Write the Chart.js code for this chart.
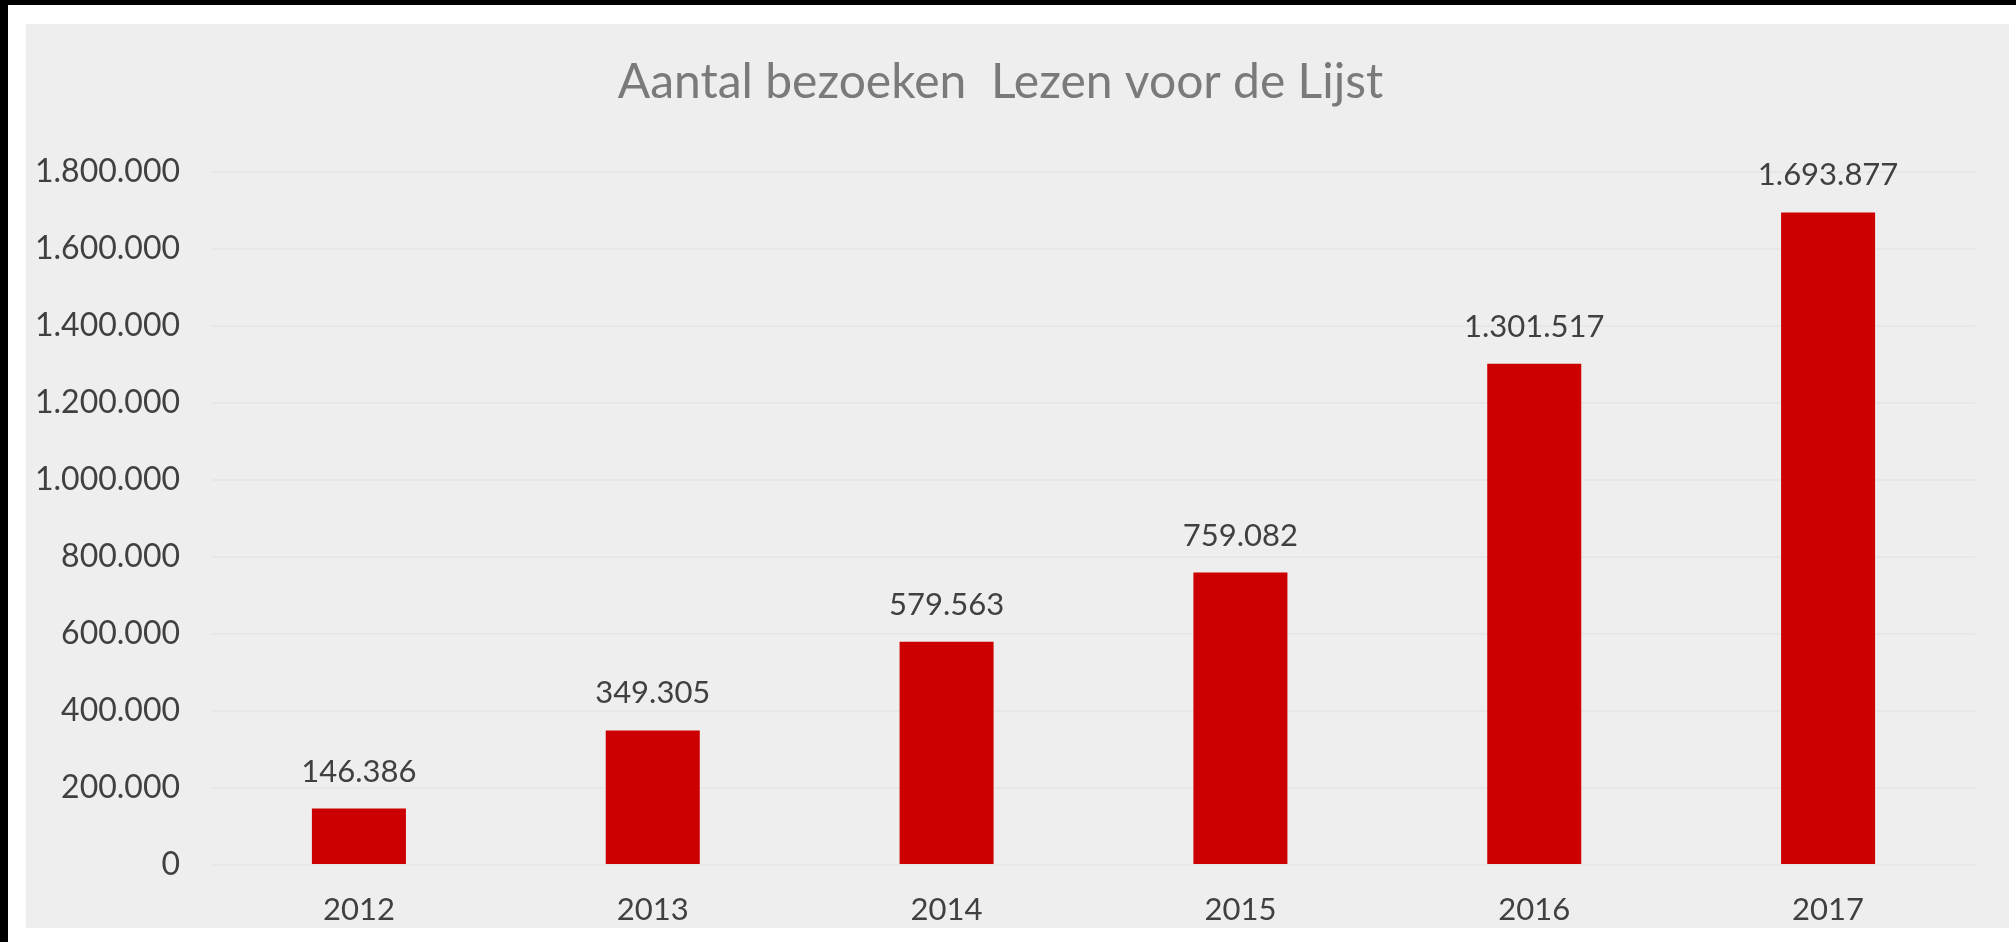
<!DOCTYPE html>
<html>
<head>
<meta charset="utf-8">
<script src="https://cdn.jsdelivr.net/npm/chart.js@4.4.1/dist/chart.umd.min.js"></script>
<style>
  html, body { margin: 0; padding: 0; background: #ffffff; width: 2016px; height: 942px; overflow: hidden; }
  .topband { position: absolute; left: 0; top: 0; width: 2016px; height: 5px; background: #000; }
  .leftband { position: absolute; left: 0; top: 0; width: 8px; height: 942px; background: #000; }
  .panel { position: absolute; left: 26px; top: 24px; width: 1983px; height: 904px; background: #eeeeee; }
</style>
</head>
<body>
<div class="topband"></div>
<div class="leftband"></div>
<div class="panel"><canvas id="chart" width="1983" height="904"></canvas></div>
<script>
// data
const years = ['2012', '2013', '2014', '2015', '2016', '2017'];
const visits = [146386, 349305, 579563, 759082, 1301517, 1693877];
const yMax = 1800000;
const yStep = 200000;

// dutch style thousands separator
function fmt(v) {
    return String(v).replace(/\B(?=(\d{3})+(?!\d))/g, '.');
}

/*value labels above the bars*/
const barLabels = {
    id: 'barLabels',
    afterDatasetsDraw(chart) {
        const ctx = chart.ctx;
        const meta = chart.getDatasetMeta(0);
        ctx.save();
        ctx.font = '31px Lato';
        ctx.fillStyle = '#404040';
        ctx.textAlign = 'center';
        ctx.textBaseline = 'middle';
        meta.data.forEach((bar, i) => {
            ctx.fillText(fmt(visits[i]), bar.x, bar.y - 37);
        });
        ctx.restore();
    }
};

new Chart(document.getElementById('chart'), {
    type: 'bar',
    data: {
        labels: years,
        datasets: [{
            data: visits,
            backgroundColor: '#cc0000',
            categoryPercentage: 1,
            barPercentage: 0.32
        }]
    },
    options: {
        responsive: false,
        animation: false,
        layout: { padding: { left: 0, right: 34, top: 0, bottom: 0 } },
        plugins: {
            legend: { display: false },
            tooltip: { enabled: false },
            title: {
                display: true,
                text: 'Aantal bezoeken  Lezen voor de Lijst',
                color: '#7a7a7a',
                font: { family: 'Lato', size: 48, weight: 'normal', lineHeight: 1.2 },
                padding: { top: 30, bottom: 60 }
            }
        },
        scales: {
            x: {
                grid: { display: false },
                border: { display: false },
                ticks: { color: '#404040', font: { family: 'Lato', size: 31 }, padding: 18 },
                afterFit: function(scale) { scale.height = 63; }
            },
            y: {
                min: 0,
                max: yMax,
                grid: { color: '#e7e7e7', lineWidth: 2, drawTicks: false },
                border: { display: false },
                ticks: {
                    stepSize: yStep,
                    color: '#404040',
                    font: { family: 'Lato', size: 32 },
                    padding: 32,
                    callback: function(value) { return fmt(value); }
                },
                afterFit: function(scale) { scale.width = 186; }
            }
        }
    },
    plugins: [barLabels]
});
</script>
</body>
</html>
